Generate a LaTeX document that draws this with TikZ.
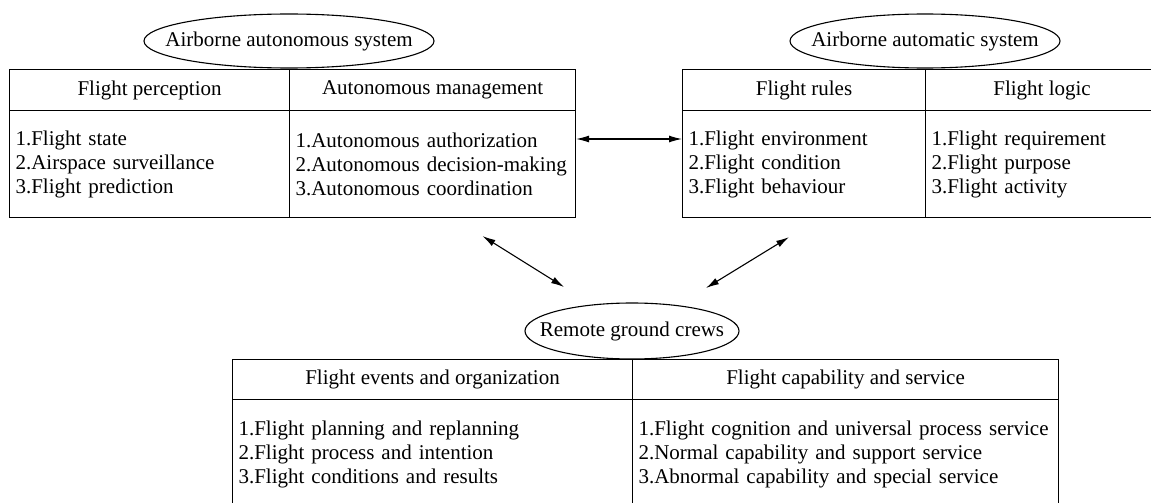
\documentclass[tikz,border=0pt]{standalone}
\usepackage{fontspec}
\setmainfont{Liberation Serif}
\usetikzlibrary{arrows.meta,calc,shapes.geometric}
\begin{document}
\begin{tikzpicture}[x=1pt,y=-1pt,
  line width=1.1pt,
  font=\fontsize{21}{24}\selectfont,
  cellbox/.style={draw, rectangle, inner sep=0pt, anchor=north west},
  bodybox/.style={cellbox, align=left, inner xsep=6pt},
  ovalbox/.style={draw, ellipse, inner sep=0pt, minimum height=54pt},
  link/.style={{Latex[length=13pt,width=7pt]}-{Latex[length=13pt,width=7pt]}, line width=1.1pt}]
\useasboundingbox (0,0) rectangle (1151,503);
\clip (0,0) rectangle (1151,503);

% Table 1
\node[cellbox, minimum width=280pt, minimum height=41pt] (h11) at (9,69) {Flight perception};
\node[cellbox, minimum width=286pt, minimum height=41pt] (h12) at (289,69) {Autonomous management};
\node[bodybox, minimum width=280pt, minimum height=107pt, text width=268pt] (b11) at (9,110)
  {1.Flight state\\2.Airspace surveillance\\3.Flight prediction};
\node[bodybox, minimum width=286pt, minimum height=107pt, text width=274pt] (b12) at (289,110)
  {1.Autonomous authorization\\2.Autonomous decision-making\\3.Autonomous coordination};
\node[ovalbox, minimum width=290pt, label={center:Airborne autonomous system}] (e1) at (289,41) {};

% Table 2
\node[cellbox, minimum width=243pt, minimum height=41pt] (h21) at (682,69) {Flight rules};
\node[cellbox, minimum width=233pt, minimum height=41pt] (h22) at (925,69) {Flight logic};
\node[bodybox, minimum width=243pt, minimum height=107pt, text width=231pt] (b21) at (682,110)
  {1.Flight environment\\2.Flight condition\\3.Flight behaviour};
\node[bodybox, minimum width=233pt, minimum height=107pt, text width=221pt] (b22) at (925,110)
  {1.Flight requirement\\2.Flight purpose\\3.Flight activity};
\node[ovalbox, minimum width=270pt, label={center:Airborne automatic system}] (e2) at (925,41) {};

% Table 3
\node[cellbox, minimum width=400pt, minimum height=40pt] (h31) at (232,359) {Flight events and organization};
\node[cellbox, minimum width=426pt, minimum height=40pt] (h32) at (632,359) {Flight capability and service};
\node[bodybox, minimum width=400pt, minimum height=109pt, text width=388pt] (b31) at (232,399)
  {1.Flight planning and replanning\\2.Flight process and intention\\3.Flight conditions and results};
\node[bodybox, minimum width=426pt, minimum height=109pt, text width=414pt] (b32) at (632,399)
  {1.Flight cognition and universal process service\\2.Normal capability and support service\\3.Abnormal capability and special service};
\node[ovalbox, minimum width=214pt, minimum height=56pt, label={center:Remote ground crews}] (e3) at (632,331) {};

% Connectors
\draw[link] ($(b12.north east)+(0,29)$) -- ($(b21.north west)+(0,29)$);
\draw[link] ($(b12.south)+(50,18)$) -- ($(e3.center)+(-68,-44)$);
\draw[link] ($(b21.south)+(-15,19)$) -- ($(e3.center)+(74,-43)$);
\end{tikzpicture}
\end{document}
